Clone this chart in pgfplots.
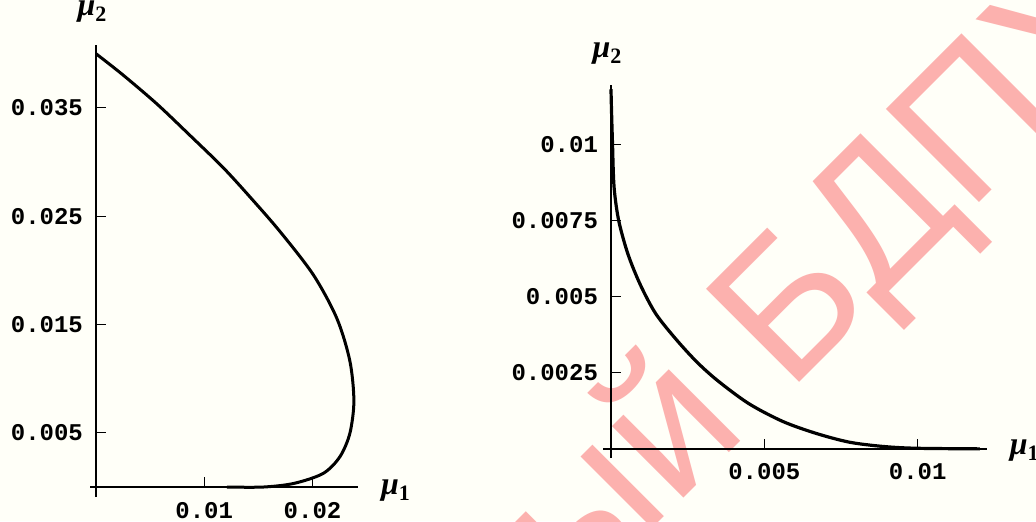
\documentclass[border=0pt]{standalone}
\usepackage{fontspec}
\setmainfont{Liberation Serif}
\newfontfamily\monob{Liberation Mono}
\newfontfamily\wm{Liberation Sans}
\usepackage{pgfplots}
\pgfplotsset{compat=1.18}
\definecolor{bg}{RGB}{255,255,248}
\definecolor{wmred}{RGB}{252,177,174}
\newcommand{\mulab}[1]{{\fontsize{16}{16}\selectfont\bfseries\itshape μ\raisebox{-3pt}{\fontsize{11}{11}\selectfont\upshape #1}}}
\pgfplotsset{
  mstyle/.style={
    scale only axis,
    axis lines=middle,
    scaled ticks=false,
    axis line style={-, line width=0.75pt, black},
    tick style={black, line width=0.6pt},
    major tick length=5pt,
    tick align=inside,
    xticklabel style={font=\monob\bfseries\fontsize{12}{12}\selectfont, anchor=north, yshift=-4pt},
    yticklabel style={font=\monob\bfseries\fontsize{12}{12}\selectfont, anchor=east, xshift=-3pt},
    clip=false,
  }
}
\begin{document}
\begin{tikzpicture}[x=1pt,y=1pt]
\fill[bg] (0,0) rectangle (518,260.5);
\node[rotate=45, anchor=base west, inner sep=0, text=wmred, font=\wm\fontsize{95.7}{100}\selectfont] at (393.9,63.5) {БДПУ};
\node[rotate=45, anchor=base east, inner sep=0, text=wmred, font=\wm\fontsize{95.7}{100}\selectfont] at (393.9,63.5) {Рэпазіторый\kern0.278em};

\begin{axis}[mstyle,
  at={(45pt,12pt)}, anchor=south west,
  width=134pt, height=226pt,
  xmin=-0.00055, xmax=0.0242, ymin=-0.00092, ymax=0.0408,
  xtick={0.01,0.02}, xticklabels={0.01,0.02},
  ytick={0.005,0.015,0.025,0.035}, yticklabels={0.005,0.015,0.025,0.035},
  xlabel={\mulab{1}}, ylabel={\mulab{2}},
  every axis x label/.style={at={(axis cs:0.0242,0)}, anchor=west, xshift=8pt, yshift=-2pt},
  every axis y label/.style={at={(axis cs:0,0.0408)}, anchor=south, yshift=8pt, xshift=-2pt},
]
\addplot[black, line width=1.5pt, smooth] coordinates {
(0,0.0400) (0.00249,0.03804) (0.00563,0.03536) (0.00868,0.03246) (0.01173,0.0295)
(0.01422,0.02678) (0.01699,0.02359) (0.02008,0.01958) (0.02225,0.01556)
(0.02345,0.01163) (0.02382,0.00794) (0.02345,0.00496) (0.02253,0.0028)
(0.02099,0.00126) (0.0183,0.00034) (0.01545,0) (0.0121,0)
};
\end{axis}

\begin{axis}[mstyle,
  at={(301.5pt,31.5pt)}, anchor=south west,
  width=191.85pt, height=186.5pt,
  xmin=-0.00026, xmax=0.01225, ymin=-0.0003, ymax=0.01194,
  xtick={0.005,0.01}, xticklabels={0.005,0.01},
  ytick={0.0025,0.005,0.0075,0.01}, yticklabels={0.0025,0.005,0.0075,0.01},
  xlabel={\mulab{1}}, ylabel={\mulab{2}},
  every axis x label/.style={at={(axis cs:0.01225,0)}, anchor=west, xshift=8pt, yshift=-1pt},
  every axis y label/.style={at={(axis cs:0,0.01194)}, anchor=south, yshift=7pt, xshift=-2pt},
]
\addplot[black, line width=1.6pt, smooth, tension=0.5] coordinates {
(0,0.0118) (0.00002,0.011) (0.00005,0.0100) (0.0001,0.0086) (0.00025,0.0075)
(0.00055,0.0064) (0.00095,0.0054) (0.00145,0.00445) (0.0021,0.00362)
(0.0028,0.00285) (0.0035,0.00222) (0.0045,0.00148) (0.0056,0.0009)
(0.00668,0.00051) (0.00777,0.00022) (0.00886,0.00008) (0.00994,0.00002)
(0.01203,0)
};
\end{axis}
\pgfresetboundingbox
\useasboundingbox (0,0) rectangle (518,260.5);
\end{tikzpicture}
\end{document}
